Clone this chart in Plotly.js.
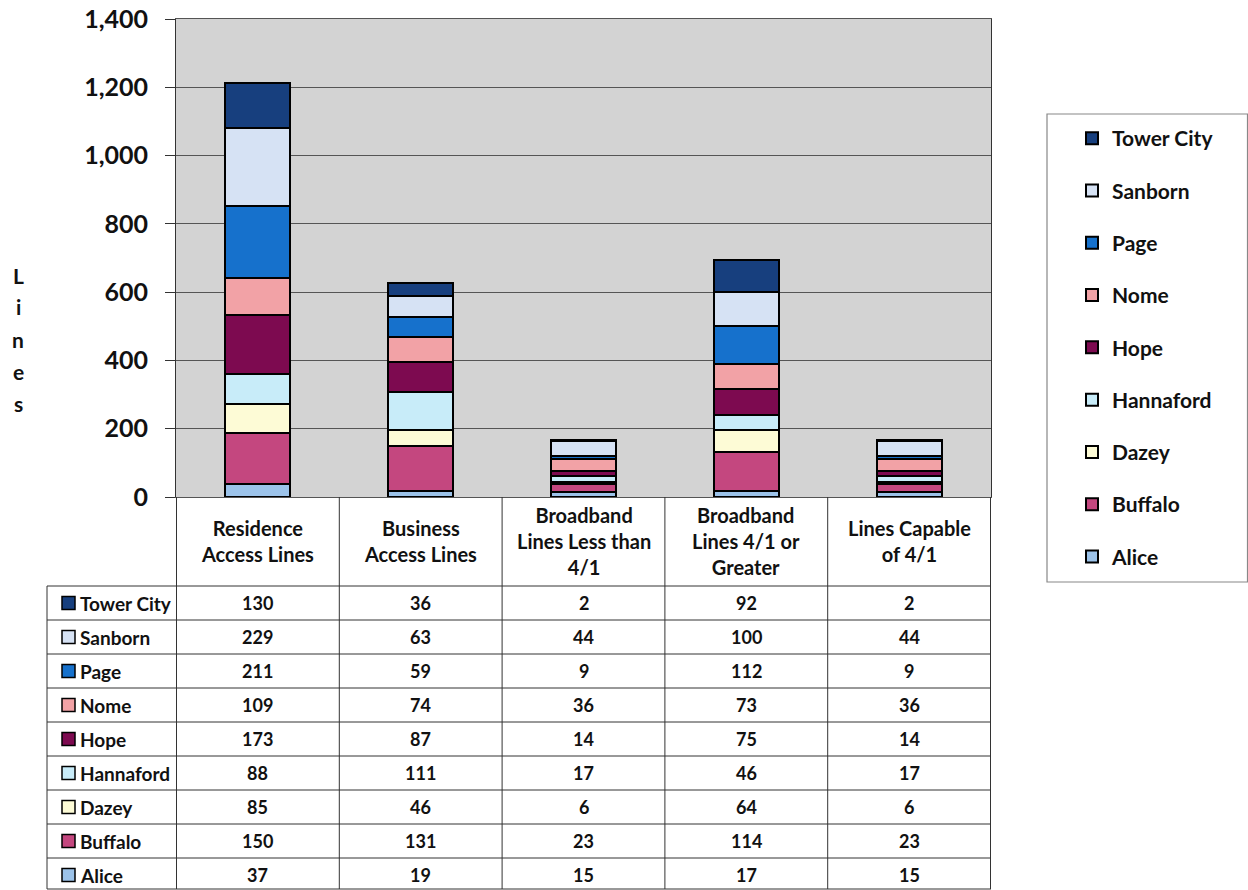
<!DOCTYPE html>
<html>
<head>
<meta charset="utf-8">
<script src="https://cdn.plot.ly/plotly-3.0.1.min.js"></script>
<style>html,body{margin:0;padding:0;background:#fff;}#chart{width:1248px;height:890px;}</style>
</head>
<body>
<div id="chart"></div>
<script>
// ---- data ----
var categories = ["Residence Access Lines", "Business Access Lines", "Broadband Lines Less than 4/1", "Broadband Lines 4/1 or Greater", "Lines Capable of 4/1"];
var headerLabels = ["Residence<br>Access Lines", "Business<br>Access Lines", "Broadband<br>Lines Less than<br>4/1", "Broadband<br>Lines 4/1 or<br>Greater", "Lines Capable<br>of 4/1"];
var seriesNames = ["Alice", "Buffalo", "Dazey", "Hannaford", "Hope", "Nome", "Page", "Sanborn", "Tower City"];
var alice     = [37, 19, 15, 17, 15];
var buffalo   = [150, 131, 23, 114, 23];
var dazey     = [85, 46, 6, 64, 6];
var hannaford = [88, 111, 17, 46, 17];
var hope      = [173, 87, 14, 75, 14];
var nome      = [109, 74, 36, 73, 36];
var page      = [211, 59, 9, 112, 9];
var sanborn   = [229, 63, 44, 100, 44];
var towerCity = [130, 36, 2, 92, 2];
var seriesValues = [alice, buffalo, dazey, hannaford, hope, nome, page, sanborn, towerCity];
var seriesColors = ["#9cc3ea", "#c4477f", "#fdfbd6", "#c8ecf9", "#7d0a50", "#f2a2a6", "#1671cc", "#d6e2f4", "#173f7e"];
var yTickVals = [0, 200, 400, 600, 800, 1000, 1200, 1400];
var yTitle = "Lines";

// ---- geometry helpers (pixels -> paper) ----
var W = 1248, H = 890;
function px(x) { return x / W; }
function py(y) { return 1 - y / H; }
var FONT = "Lato, 'Open Sans', sans-serif";

var traces = seriesNames.map(function (name, i) {
  return {
    type: "bar",
    name: name,
    x: categories,
    y: seriesValues[i],
    legendgroup: "g" + i,
    legendrank: 1000 - i,
    marker: { color: seriesColors[i], line: { color: "#000000", width: 2 } },
    hoverinfo: "name+y"
  };
});

var shapes = [];
var annotations = [];
var headerTop = 497, headerBottom = 586, rowH = 34, tableBottom = 889;

// legend frame
shapes.push({ type: "rect", xref: "paper", yref: "paper", x0: px(1047), x1: px(1247.5),
  y0: py(582), y1: py(114), line: { color: "#888", width: 1.2 }, fillcolor: "rgba(0,0,0,0)" });

// vertical column lines (through the axis category scale)
for (var c = 0; c <= categories.length; c++) {
  shapes.push({ type: "line", xref: "x", yref: "paper", x0: c - 0.5, x1: c - 0.5,
    y0: py(headerTop), y1: py(tableBottom), line: { color: "#333", width: 1 } });
}
// left legend column border
shapes.push({ type: "line", xref: "paper", yref: "paper", x0: px(47), x1: px(47),
  y0: py(headerBottom), y1: py(tableBottom), line: { color: "#333", width: 1 } });
// horizontal row lines
for (var r = 0; r <= seriesNames.length; r++) {
  var yy = headerBottom + r * rowH;
  if (yy > tableBottom) yy = tableBottom;
  shapes.push({ type: "line", xref: "paper", yref: "paper", x0: px(47), x1: px(991),
    y0: py(yy), y1: py(yy), line: { color: "#333", width: 1 } });
}

// header labels
headerLabels.forEach(function (lab, c) {
  annotations.push({ xref: "x", yref: "paper", x: categories[c], y: py((headerTop + headerBottom) / 2 - 1),
    text: lab, showarrow: false, xanchor: "center", yanchor: "middle",
    font: { family: FONT, size: 20, color: "#111", weight: "bold" } });
});

// rows: top row = last series
var ordered = seriesNames.map(function (n, i) { return i; }).reverse();
ordered.forEach(function (si, r) {
  var cy = headerBottom + r * rowH + rowH / 2;
  shapes.push({ type: "rect", xref: "paper", yref: "paper",
    x0: px(62), x1: px(75), y0: py(cy + 6.5), y1: py(cy - 6.5),
    fillcolor: seriesColors[si], line: { color: "#000", width: 1.5 } });
  annotations.push({ xref: "paper", yref: "paper", x: px(78), y: py(cy),
    text: seriesNames[si], showarrow: false, xanchor: "left", yanchor: "middle",
    font: { family: FONT, size: 19, color: "#111", weight: "bold" } });
  seriesValues[si].forEach(function (v, c) {
    annotations.push({ xref: "x", yref: "paper", x: categories[c], y: py(cy),
      text: String(v), showarrow: false, xanchor: "center", yanchor: "middle",
      font: { family: FONT, size: 18, color: "#111", weight: "bold" } });
  });
});

// vertical "Lines" axis title, one letter per line
yTitle.split("").forEach(function (ch, k) {
  annotations.push({ xref: "paper", yref: "paper", x: px(18), y: py(275 + 32 * k),
    text: ch, showarrow: false, xanchor: "center", yanchor: "middle",
    font: { family: FONT, size: 21, color: "#111", weight: "bold" } });
});

var layout = {
  width: W, height: H,
  margin: { l: 0, r: 0, t: 0, b: 0 },
  paper_bgcolor: "#ffffff",
  plot_bgcolor: "#d3d3d3",
  barmode: "stack",
  bargap: 0.6,
  showlegend: true,
  legend: {
    x: px(1072), y: py(118), xanchor: "left", yanchor: "top",
    traceorder: "grouped", tracegroupgap: 22,
    borderwidth: 0, bgcolor: "rgba(0,0,0,0)",
    font: { family: FONT, size: 21, color: "#111", weight: "bold" },
    itemwidth: 30
  },
  xaxis: {
    domain: [px(176), px(991)],
    type: "category",
    showticklabels: false,
    ticks: "",
    showgrid: false,
    showline: true, linecolor: "#555", linewidth: 1, mirror: true
  },
  yaxis: {
    domain: [py(497), py(19)],
    range: [0, 1400],
    tickvals: yTickVals,
    tickformat: ",",
    ticks: "outside", ticklen: 10, tickcolor: "#333",
    showgrid: true, gridcolor: "#555", gridwidth: 1,
    zeroline: false,
    showline: true, linecolor: "#333", linewidth: 1, mirror: true,
    tickfont: { family: FONT, size: 25, color: "#111", weight: "bold" },
    ticklabelstandoff: 12
  },
  shapes: shapes,
  annotations: annotations
};

Plotly.newPlot("chart", traces, layout, { displayModeBar: false, staticPlot: true });
</script>
</body>
</html>
